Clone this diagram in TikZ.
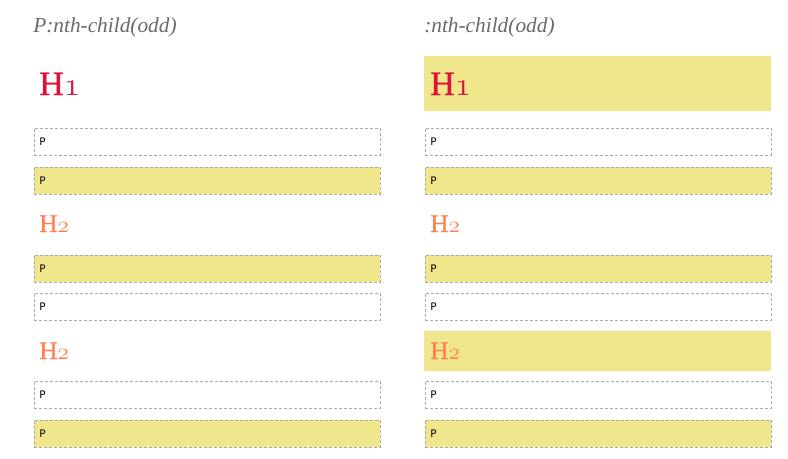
\documentclass[tikz,border=0pt]{standalone}
\usepackage{fontspec}
\setmainfont{Liberation Serif}
\newfontfamily\boxfont{DejaVu Sans}
\newfontfamily\headfont[FakeBold=0.8]{Liberation Serif}
\newcommand{\osdigit}[1]{{\usefont{OML}{cmm}{m}{it}#1}}
\definecolor{khaki}{HTML}{F0E68C}
\definecolor{crimsonc}{HTML}{DC143C}
\definecolor{coralc}{HTML}{FF7F50}
\definecolor{titlegray}{HTML}{6A6A6A}
\definecolor{dashgray}{HTML}{AAAAAA}
\tikzset{
  pbox/.style={draw=dashgray, line width=0.75pt, dash pattern=on 2.25pt off 1.5pt,
    minimum width=259.5pt, minimum height=20.25pt, inner sep=0pt, anchor=north west},
  hbox/.style={fill=khaki, draw=none, minimum width=260.25pt, inner sep=0pt, anchor=north west},
  ptext/.style={anchor=west, inner sep=0pt, font=\boxfont\fontsize{7.8pt}{9pt}\selectfont},
  titletext/.style={anchor=base west, inner sep=0pt, text=titlegray, font=\fontsize{16pt}{19pt}\selectfont\itshape},
  hone/.style={anchor=base west, inner sep=0pt, text=crimsonc, font=\headfont\fontsize{25.5pt}{30pt}\selectfont},
  htwo/.style={anchor=base west, inner sep=0pt, text=coralc, font=\headfont\fontsize{19pt}{22pt}\selectfont},
}
\begin{document}
\begin{tikzpicture}[x=0.75pt,y=-0.75pt]
\useasboundingbox[fill=white] (0,0) rectangle (788,458);
% titles
\node[titletext] (lt) at (33,32) {P:nth-child(odd)};
\node[titletext] (rt) at (424,32) {:nth-child(odd)};
% right highlighted heading boxes
\node[hbox, minimum height=41.25pt] (rh1box) at (424,56) {};
\node[hbox, minimum height=30pt] (rh2box) at (424,331) {};
% headings
\node[hone] (lh1) at (39,95) {H\osdigit{1}};
\node[hone] (rh1) at (430,95) {H\osdigit{1}};
\node[htwo] (lh2a) at (39,232) {H\osdigit{2}};
\node[htwo] (rh2a) at (430,232) {H\osdigit{2}};
\node[htwo] (lh2b) at (39,359) {H\osdigit{2}};
\node[htwo] (rh2b) at (430,359) {H\osdigit{2}};
% left column paragraphs
\node[pbox] (lp1) at (33.5,127.5) {};
\node[pbox, fill=khaki] (lp2) at (33.5,166.5) {};
\node[pbox, fill=khaki] (lp3) at (33.5,254.5) {};
\node[pbox] (lp4) at (33.5,292.5) {};
\node[pbox] (lp5) at (33.5,380.5) {};
\node[pbox, fill=khaki] (lp6) at (33.5,419.5) {};
% right column paragraphs
\node[pbox] (rp1) at (424.5,127.5) {};
\node[pbox, fill=khaki] (rp2) at (424.5,166.5) {};
\node[pbox, fill=khaki] (rp3) at (424.5,254.5) {};
\node[pbox] (rp4) at (424.5,292.5) {};
\node[pbox] (rp5) at (424.5,380.5) {};
\node[pbox, fill=khaki] (rp6) at (424.5,419.5) {};
% paragraph labels
\foreach \n in {lp1,lp2,lp3,lp4,lp5,lp6,rp1,rp2,rp3,rp4,rp5,rp6}{
  \node[ptext] (\n t) at ([xshift=4.2pt]\n.west) {P};
}
\end{tikzpicture}
\end{document}
